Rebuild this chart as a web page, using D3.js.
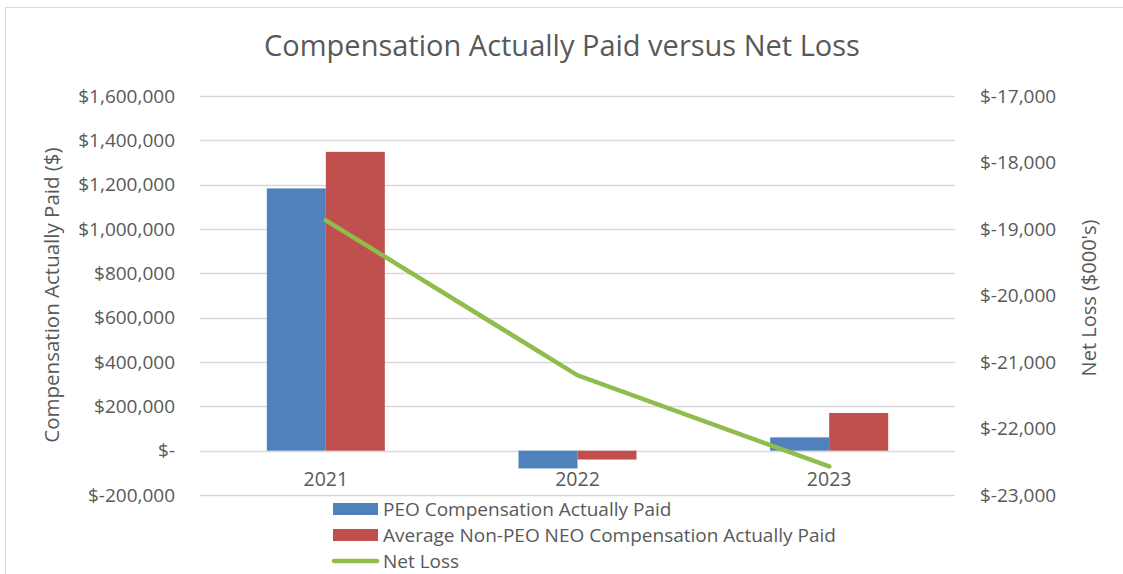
<!DOCTYPE html>
<html>
<head>
<meta charset="utf-8">
<script src="https://cdn.jsdelivr.net/npm/d3@7"></script>
<style>
  body { margin: 0; background: #fff; }
  text { font-family: "Open Sans", sans-serif; fill: #595959; }
</style>
</head>
<body>
<script>
// data
var years = ["2021", "2022", "2023"]
var peoPaid = [1183000, -80000, 60000]
var nonPeoPaid = [1348000, -40000, 170000]
var netLoss = [-18870, -21200, -22570]
var leftTicks = [-200000, 0, 200000, 400000, 600000, 800000, 1000000, 1200000, 1400000, 1600000]
var rightTicks = [-23000, -22000, -21000, -20000, -19000, -18000, -17000]
var seriesNames = ["PEO Compensation Actually Paid", "Average Non-PEO NEO Compensation Actually Paid", "Net Loss"]

var colors = ["#4f81bd", "#c0504d", "#8fbc4a"]

var W = 1123, H = 574
var margin = {top: 96, right: 168, bottom: 79, left: 200}
var width = W - margin.left - margin.right
var height = H - margin.top - margin.bottom

var root = d3.select("body").append("svg")
    .attr("width", W)
    .attr("height", H)

// chart frame
root.append("rect")
    .attr("x", 5.5).attr("y", 7.5)
    .attr("width", 1140).attr("height", 620)
    .attr("fill", "none")
    .attr("stroke", "#d9d9d9")

root.append("text")
    .attr("x", 562)
    .attr("y", 56)
    .attr("text-anchor", "middle")
    .attr("font-size", "29px")
    .text("Compensation Actually Paid versus Net Loss")

var svg = root.append("g")
    .attr("transform", "translate(" + margin.left + "," + margin.top + ")")

var xScale = d3.scaleBand()
    .domain(years)
    .range([0, width])

var xInner = d3.scaleBand()
    .domain([0, 1])
    .range([0, 118])

var yLeft = d3.scaleLinear()
    .domain([-200000, 1600000])
    .range([height, 0])

var yRight = d3.scaleLinear()
    .domain([-23000, -17000])
    .range([height, 0])

var comma = d3.format(",")
var fmtLeft = function(d) {
    if (d === 0) return "$-"
    return d < 0 ? "$-" + comma(-d) : "$" + comma(d)
}
var fmtRight = function(d) { return "$-" + comma(-d) }

// gridlines
svg.append("g")
    .selectAll("line")
    .data(leftTicks)
    .enter()
    .append("line")
    .attr("x1", 0).attr("x2", width)
    .attr("y1", function(d) { return Math.round(yLeft(d)) + 0.5 })
    .attr("y2", function(d) { return Math.round(yLeft(d)) + 0.5 })
    .attr("stroke", "#d9d9d9")
    .attr("stroke-width", 1.5)

// left axis
var yAxisL = svg.append("g")
    .call(d3.axisLeft(yLeft).tickValues(leftTicks).tickFormat(fmtLeft).tickSize(0).tickPadding(25))
yAxisL.select(".domain").remove()
yAxisL.selectAll("text").attr("font-size", "19px").attr("fill", "#595959")

// right axis
var yAxisR = svg.append("g")
    .attr("transform", "translate(" + width + ",0)")
    .call(d3.axisRight(yRight).tickValues(rightTicks).tickFormat(fmtRight).tickSize(0).tickPadding(25))
yAxisR.select(".domain").remove()
yAxisR.selectAll("text").attr("font-size", "19px").attr("fill", "#595959")

// axis titles
root.append("text")
    .attr("text-anchor", "middle")
    .attr("font-size", "20.5px")
    .attr("transform", "translate(59," + 295 + ") rotate(-90)")
    .text("Compensation Actually Paid ($)")

root.append("text")
    .attr("text-anchor", "middle")
    .attr("font-size", "20px")
    .attr("transform", "translate(1096," + 298 + ") rotate(-90)")
    .text("Net Loss ($000's)")

// bars
var bars = svg.append("g")
var barSeries = [peoPaid, nonPeoPaid]
for (let s = 0; s < barSeries.length; s++) {
    bars.selectAll(".bar" + s)
        .data(years)
        .enter()
        .append("rect")
        .attr("class", "bar" + s)
        .attr("x", function(d) { return xScale(d) + xScale.bandwidth() / 2 - 59 + xInner(s) })
        .attr("width", xInner.bandwidth())
        .attr("y", function(d, i) { return yLeft(Math.max(0, barSeries[s][i])) })
        .attr("height", function(d, i) { return Math.abs(yLeft(barSeries[s][i]) - yLeft(0)) })
        .attr("fill", colors[s])
}

// category labels
svg.append("g")
    .selectAll("text")
    .data(years)
    .enter()
    .append("text")
    .attr("x", function(d) { return xScale(d) + xScale.bandwidth() / 2 })
    .attr("y", yLeft(0) + 35)
    .attr("text-anchor", "middle")
    .attr("font-size", "19.5px")
    .text(function(d) { return d })

// net loss line
svg.append("path")
    .datum(netLoss)
    .attr("fill", "none")
    .attr("stroke", colors[2])
    .attr("stroke-width", 4.5)
    .attr("stroke-linecap", "round")
    .attr("d", d3.line()
        .x(function(d, i) { return xScale(years[i]) + xScale.bandwidth() / 2 })
        .y(function(d) { return yRight(d) }))

// legend
var legend = root.append("g")
    .attr("transform", "translate(333,509)")

seriesNames.forEach(function(name, i) {
    var row = legend.append("g").attr("transform", "translate(0," + (i * 26) + ")")
    if (i < 2) {
        row.append("rect")
            .attr("x", 0).attr("y", -6)
            .attr("width", 45).attr("height", 12)
            .attr("fill", colors[i])
    } else {
        row.append("line")
            .attr("x1", 1).attr("x2", 44)
            .attr("y1", 0).attr("y2", 0)
            .attr("stroke", colors[i])
            .attr("stroke-width", 4.5)
            .attr("stroke-linecap", "round")
    }
    row.append("text")
        .attr("x", 50)
        .attr("y", 6.5)
        .attr("font-size", "19px")
        .text(name)
})
</script>
</body>
</html>
